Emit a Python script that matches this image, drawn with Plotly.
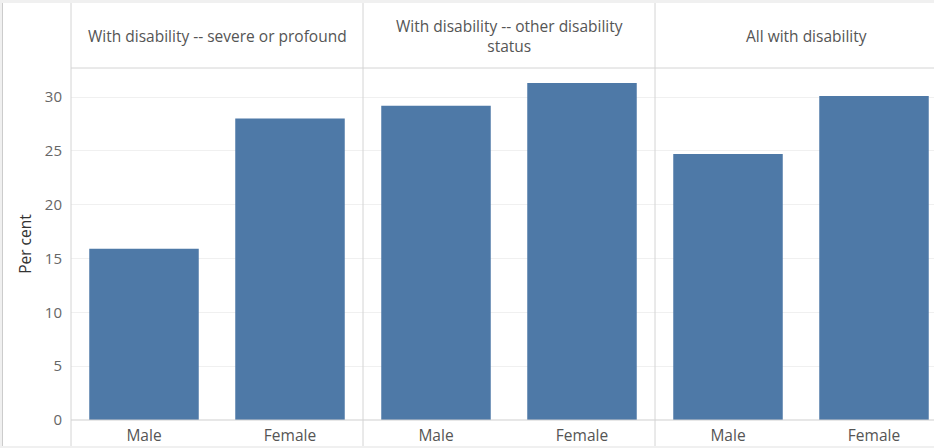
import plotly.graph_objects as go

panels = ["With disability -- severe or profound",
          "With disability -- other disability<br>status",
          "All with disability"]
sexes = ["Male", "Female"]
severe = [15.9, 28.0]
other = [29.2, 31.3]
all_dis = [24.7, 30.1]
y_ticks = [0, 5, 10, 15, 20, 25, 30]

W, H = 934, 448
L, T, B = 71, 68, 28
plot_w = W - L
plot_h = H - T - B
panel_px = 292
cat_px = panel_px / 2

d1 = panel_px / plot_w
d2 = 2 * panel_px / plot_w
domains = [[0, d1], [d1, d2], [d2, 1]]

BAR = "#4e79a7"
FONT = "Open Sans, Noto Sans, sans-serif"

fig = go.Figure()
for i, vals in enumerate([severe, other, all_dis]):
    xa = "x" if i == 0 else f"x{i+1}"
    fig.add_trace(go.Bar(x=sexes, y=vals, xaxis=xa, yaxis="y",
                         marker=dict(color=BAR, line=dict(width=0)),
                         width=0.75, showlegend=False, hoverinfo="x+y"))

layout = dict(
    width=W, height=H,
    margin=dict(l=L, r=0, t=T, b=B),
    paper_bgcolor="white", plot_bgcolor="white",
    font=dict(family=FONT, color="#666", size=15),
    bargap=0.25,
    yaxis=dict(range=[0, 32.7], tickvals=y_ticks, showgrid=True,
               gridcolor="#f0f0f0", gridwidth=1, zeroline=False,
               showline=False, ticks="", ticklabelstandoff=8,
               tickfont=dict(size=15, color="#666"),
               title=dict(text="Per cent", font=dict(size=15.5, color="#333"), standoff=9),
               anchor="x", domain=[0, 1]),
)
third_max = -0.5 + (plot_w - 2 * panel_px) / cat_px
for i in range(3):
    key = "xaxis" if i == 0 else f"xaxis{i+1}"
    rng = [-0.5, 1.5] if i < 2 else [-0.5, third_max]
    layout[key] = dict(domain=domains[i], range=rng, anchor="y",
                       showgrid=False, zeroline=False, showline=False, ticks="",
                       ticklabelstandoff=4,
                       tickfont=dict(size=15.5, color="#555"), fixedrange=True)
fig.update_layout(**layout)

def py(pixel):
    return 1 - (pixel - T) / plot_h

shapes = []
line_c = "#d4d4d4"
shapes.append(dict(type="line", xref="paper", yref="paper", x0=0, x1=1,
                   y0=1, y1=1, line=dict(color=line_c, width=1)))
shapes.append(dict(type="line", xref="paper", yref="paper", x0=0, x1=1,
                   y0=0, y1=0, line=dict(color="#cfcfcf", width=1)))
for xv in [0, d1, d2]:
    shapes.append(dict(type="line", xref="paper", yref="paper", x0=xv, x1=xv,
                       y0=py(H), y1=py(3), line=dict(color=line_c, width=1)))
px_to_x = lambda p: (p - L) / plot_w
shapes.append(dict(type="rect", xref="paper", yref="paper", x0=px_to_x(0), x1=1.01,
                   y0=py(3), y1=py(-2), fillcolor="#f0f0f0", line=dict(width=0), layer="above"))
shapes.append(dict(type="rect", xref="paper", yref="paper", x0=px_to_x(0), x1=1.01,
                   y0=py(450), y1=py(446), fillcolor="#f0f0f0", line=dict(width=0), layer="above"))
shapes.append(dict(type="rect", xref="paper", yref="paper", x0=px_to_x(-2), x1=px_to_x(2.5),
                   y0=py(450), y1=py(-2), fillcolor="#f0f0f0", line=dict(width=0), layer="above"))
shapes.append(dict(type="line", xref="paper", yref="paper", x0=px_to_x(2.5), x1=px_to_x(2.5),
                   y0=py(446), y1=py(3), line=dict(color="#cccccc", width=1), layer="above"))
fig.update_layout(shapes=shapes)

centers = [px_to_x(L + panel_px / 2), px_to_x(L + 1.5 * panel_px), px_to_x(806)]
annos = []
for c, txt in zip(centers, panels):
    annos.append(dict(text=txt, x=c, y=py(36), xref="paper", yref="paper",
                      showarrow=False, xanchor="center", yanchor="middle",
                      font=dict(size=15.5, color="#555", family=FONT)))
fig.update_layout(annotations=annos)

fig.write_html("out.html", config={"displayModeBar": False})
with open("out.html", encoding="utf-8") as f:
    html = f.read()
html = html.replace("<body>", '<body style="margin:0;overflow:hidden">', 1)
with open("out.html", "w", encoding="utf-8") as f:
    f.write(html)
